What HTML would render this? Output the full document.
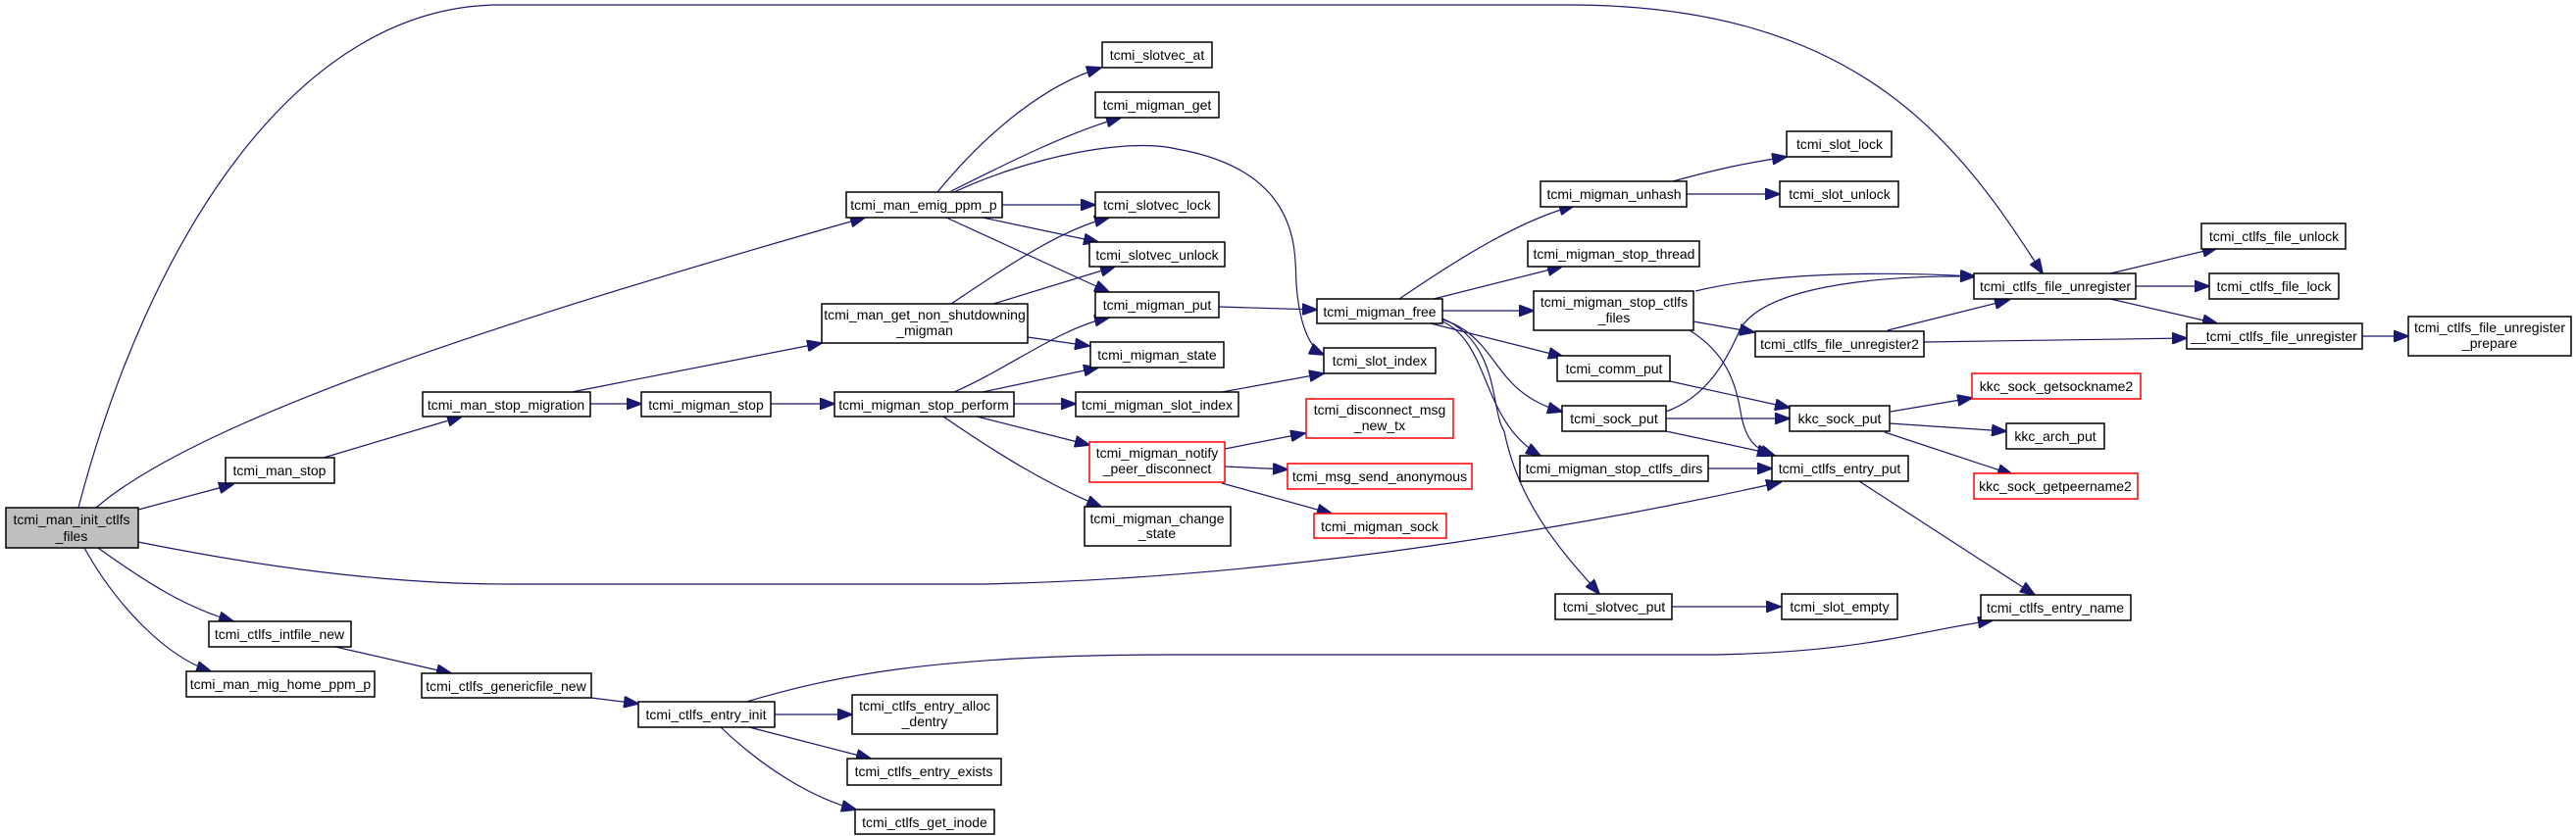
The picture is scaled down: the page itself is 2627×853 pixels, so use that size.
<!DOCTYPE html>
<html><head><meta charset="utf-8"><style>
html,body{margin:0;padding:0;background:#fff;}
svg{display:block;}
text{font-family:"Liberation Sans",Arial,sans-serif;font-size:14px;fill:#000;text-anchor:middle;}
.e{fill:none;stroke:#191970;stroke-width:1.2;marker-end:url(#a);}
.n{fill:#fff;stroke:#000;stroke-width:1.5;}
.r{fill:#fff;stroke:#ff0000;stroke-width:1.5;}
.g{fill:#bfbfbf;stroke:#000;stroke-width:1.5;}
</style></head><body>
<svg width="2627" height="853" viewBox="0 0 2627 853" xmlns="http://www.w3.org/2000/svg">
<defs><marker id="a" markerUnits="userSpaceOnUse" markerWidth="16" markerHeight="12" refX="15" refY="6" orient="auto"><path d="M0,0 L16,6 L0,12 z" fill="#191970" stroke="#191970"/></marker></defs>
<g>
<path class="e" d="M80,518 C150,250 300,5 510,5 L1600,5 C1900,5 2000,150 2083,279"/>
<path class="e" d="M98,518 C200,430 500,330 882,222"/>
<path class="e" d="M141,520 L238,494"/>
<path class="e" d="M141,553 C300,585 420,596 520,596 L1000,596 C1300,590 1600,540 1816,492"/>
<path class="e" d="M100,559 C150,595 190,620 238,634"/>
<path class="e" d="M86,559 C120,620 170,670 215,685"/>
<path class="e" d="M330,467 L471,425"/>
<path class="e" d="M583,400 L838,350"/>
<path class="e" d="M601,412 L654,412"/>
<path class="e" d="M786,412 L851,412"/>
<path class="e" d="M342,660 L460,687"/>
<path class="e" d="M603,712 L651,718"/>
<path class="e" d="M761,716 C850,690 950,668 1200,668 L1750,668 C1900,665 1950,645 2032,633"/>
<path class="e" d="M790,729 L869,729"/>
<path class="e" d="M764,742 L888,774"/>
<path class="e" d="M735,742 C780,785 830,815 873,826"/>
<path class="e" d="M956,196 C1010,130 1070,85 1123,69"/>
<path class="e" d="M970,195 C1030,165 1090,135 1143,120"/>
<path class="e" d="M973,196 C1050,160 1150,140 1200,152 C1330,175 1320,260 1322,290 C1325,330 1335,355 1350,362"/>
<path class="e" d="M1022,209 L1117,209"/>
<path class="e" d="M1002,222 L1120,247"/>
<path class="e" d="M965,222 L1131,298"/>
<path class="e" d="M970,310 C1030,270 1080,235 1131,222"/>
<path class="e" d="M1013,310 L1137,272"/>
<path class="e" d="M1048,344 L1111,353"/>
<path class="e" d="M973,400 C1030,375 1080,335 1131,324"/>
<path class="e" d="M1002,400 L1120,375"/>
<path class="e" d="M1034,412 L1097,412"/>
<path class="e" d="M996,425 L1111,454"/>
<path class="e" d="M962,425 C1020,465 1070,495 1123,517"/>
<path class="e" d="M1243,313 L1343,316"/>
<path class="e" d="M1246,400 L1350,381"/>
<path class="e" d="M1249,458 L1331,442"/>
<path class="e" d="M1249,476 L1313,479"/>
<path class="e" d="M1246,493 L1358,524"/>
<path class="e" d="M1427,305 C1490,262 1550,225 1605,210"/>
<path class="e" d="M1462,305 L1593,272"/>
<path class="e" d="M1471,317 L1564,317"/>
<path class="e" d="M1459,330 L1594,364"/>
<path class="e" d="M1471,326 C1530,345 1520,400 1593,420"/>
<path class="e" d="M1471,328 C1520,350 1510,430 1571,465"/>
<path class="e" d="M1471,325 C1530,350 1520,420 1534,440 C1550,520 1600,570 1631,606"/>
<path class="e" d="M1706,185 C1760,170 1790,165 1822,160"/>
<path class="e" d="M1720,198 L1815,198"/>
<path class="e" d="M1729,297 C1800,280 1900,276 2014,282"/>
<path class="e" d="M1727,328 L1789,339"/>
<path class="e" d="M1723,337 C1760,360 1770,390 1775,420 C1780,450 1790,458 1810,465"/>
<path class="e" d="M1703,389 L1825,416"/>
<path class="e" d="M1699,420 C1740,405 1760,370 1775,335 C1800,295 1900,281 2014,282"/>
<path class="e" d="M1699,427 L1825,427"/>
<path class="e" d="M1699,440 L1807,463"/>
<path class="e" d="M1742,478 L1807,478"/>
<path class="e" d="M1705,619 L1816,619"/>
<path class="e" d="M2152,279 L2261,253"/>
<path class="e" d="M2178,292 L2253,292"/>
<path class="e" d="M2152,305 L2261,330"/>
<path class="e" d="M1925,337 L2049,306"/>
<path class="e" d="M1962,349 L2230,345"/>
<path class="e" d="M2409,343 L2456,343"/>
<path class="e" d="M1928,420 L2011,406"/>
<path class="e" d="M1927,432 L2046,440"/>
<path class="e" d="M1922,441 L2052,484"/>
<path class="e" d="M1896,491 L2075,607"/>
</g>
<g>
<rect class="g" x="6" y="518" width="135" height="41"/><text x="73" y="535">tcmi_man_init_ctlfs</text><text x="73" y="552">_files</text>
<rect class="n" x="230" y="467" width="111" height="26"/><text x="285" y="485">tcmi_man_stop</text>
<rect class="n" x="431" y="400" width="171" height="25"/><text x="516" y="418">tcmi_man_stop_migration</text>
<rect class="n" x="654" y="400" width="132" height="25"/><text x="720" y="418">tcmi_migman_stop</text>
<rect class="n" x="213" y="634" width="145" height="26"/><text x="285" y="652">tcmi_ctlfs_intfile_new</text>
<rect class="n" x="190" y="685" width="192" height="26"/><text x="286" y="703">tcmi_man_mig_home_ppm_p</text>
<rect class="n" x="430" y="687" width="173" height="25"/><text x="516" y="705">tcmi_ctlfs_genericfile_new</text>
<rect class="n" x="651" y="716" width="139" height="26"/><text x="720" y="734">tcmi_ctlfs_entry_init</text>
<rect class="n" x="863" y="196" width="159" height="26"/><text x="942" y="214">tcmi_man_emig_ppm_p</text>
<rect class="n" x="1124" y="43" width="112" height="26"/><text x="1180" y="61">tcmi_slotvec_at</text>
<rect class="n" x="1117" y="94" width="126" height="26"/><text x="1180" y="112">tcmi_migman_get</text>
<rect class="n" x="1117" y="196" width="126" height="26"/><text x="1180" y="214">tcmi_slotvec_lock</text>
<rect class="n" x="1111" y="247" width="138" height="25"/><text x="1180" y="265">tcmi_slotvec_unlock</text>
<rect class="n" x="1117" y="298" width="126" height="26"/><text x="1180" y="316">tcmi_migman_put</text>
<rect class="n" x="838" y="310" width="210" height="40"/><text x="943" y="326">tcmi_man_get_non_shutdowning</text><text x="943" y="342">_migman</text>
<rect class="n" x="1112" y="349" width="136" height="26"/><text x="1180" y="367">tcmi_migman_state</text>
<rect class="n" x="851" y="400" width="183" height="25"/><text x="942" y="418">tcmi_migman_stop_perform</text>
<rect class="n" x="1097" y="400" width="166" height="25"/><text x="1180" y="418">tcmi_migman_slot_index</text>
<rect class="r" x="1111" y="451" width="138" height="41"/><text x="1180" y="467">tcmi_migman_notify</text><text x="1180" y="483">_peer_disconnect</text>
<rect class="n" x="1106" y="517" width="149" height="40"/><text x="1180" y="534">tcmi_migman_change</text><text x="1180" y="549">_state</text>
<rect class="n" x="1343" y="305" width="128" height="25"/><text x="1407" y="323">tcmi_migman_free</text>
<rect class="n" x="1350" y="355" width="114" height="26"/><text x="1407" y="373">tcmi_slot_index</text>
<rect class="r" x="1332" y="407" width="150" height="40"/><text x="1407" y="423">tcmi_disconnect_msg</text><text x="1407" y="439">_new_tx</text>
<rect class="r" x="1313" y="473" width="188" height="26"/><text x="1407" y="491">tcmi_msg_send_anonymous</text>
<rect class="r" x="1340" y="524" width="135" height="25"/><text x="1407" y="542">tcmi_migman_sock</text>
<rect class="n" x="1571" y="185" width="149" height="26"/><text x="1646" y="203">tcmi_migman_unhash</text>
<rect class="n" x="1558" y="246" width="175" height="26"/><text x="1646" y="264">tcmi_migman_stop_thread</text>
<rect class="n" x="1564" y="297" width="163" height="40"/><text x="1646" y="313">tcmi_migman_stop_ctlfs</text><text x="1646" y="329">_files</text>
<rect class="n" x="1588" y="363" width="115" height="26"/><text x="1646" y="381">tcmi_comm_put</text>
<rect class="n" x="1593" y="414" width="106" height="26"/><text x="1646" y="432">tcmi_sock_put</text>
<rect class="n" x="1550" y="465" width="192" height="26"/><text x="1646" y="483">tcmi_migman_stop_ctlfs_dirs</text>
<rect class="n" x="1586" y="606" width="119" height="26"/><text x="1646" y="624">tcmi_slotvec_put</text>
<rect class="n" x="869" y="709" width="148" height="40"/><text x="943" y="725">tcmi_ctlfs_entry_alloc</text><text x="943" y="741">_dentry</text>
<rect class="n" x="864" y="774" width="157" height="27"/><text x="942" y="792">tcmi_ctlfs_entry_exists</text>
<rect class="n" x="872" y="826" width="142" height="25"/><text x="943" y="844">tcmi_ctlfs_get_inode</text>
<rect class="n" x="1822" y="134" width="107" height="26"/><text x="1876" y="152">tcmi_slot_lock</text>
<rect class="n" x="1815" y="185" width="121" height="26"/><text x="1876" y="203">tcmi_slot_unlock</text>
<rect class="n" x="2013" y="279" width="165" height="26"/><text x="2096" y="297">tcmi_ctlfs_file_unregister</text>
<rect class="n" x="2245" y="228" width="147" height="26"/><text x="2319" y="246">tcmi_ctlfs_file_unlock</text>
<rect class="n" x="2253" y="279" width="132" height="26"/><text x="2319" y="297">tcmi_ctlfs_file_lock</text>
<rect class="n" x="2230" y="330" width="179" height="26"/><text x="2319" y="348">__tcmi_ctlfs_file_unregister</text>
<rect class="n" x="2456" y="323" width="166" height="40"/><text x="2539" y="339">tcmi_ctlfs_file_unregister</text><text x="2539" y="355">_prepare</text>
<rect class="n" x="1790" y="338" width="172" height="26"/><text x="1876" y="356">tcmi_ctlfs_file_unregister2</text>
<rect class="r" x="2011" y="381" width="172" height="26"/><text x="2097" y="399">kkc_sock_getsockname2</text>
<rect class="n" x="1825" y="414" width="102" height="26"/><text x="1876" y="432">kkc_sock_put</text>
<rect class="n" x="2046" y="432" width="100" height="26"/><text x="2096" y="450">kkc_arch_put</text>
<rect class="r" x="2013" y="483" width="167" height="26"/><text x="2096" y="501">kkc_sock_getpeername2</text>
<rect class="n" x="1807" y="465" width="139" height="26"/><text x="1876" y="483">tcmi_ctlfs_entry_put</text>
<rect class="n" x="1817" y="606" width="118" height="26"/><text x="1876" y="624">tcmi_slot_empty</text>
<rect class="n" x="2020" y="607" width="153" height="26"/><text x="2096" y="625">tcmi_ctlfs_entry_name</text>
</g>
</svg>
</body></html>
